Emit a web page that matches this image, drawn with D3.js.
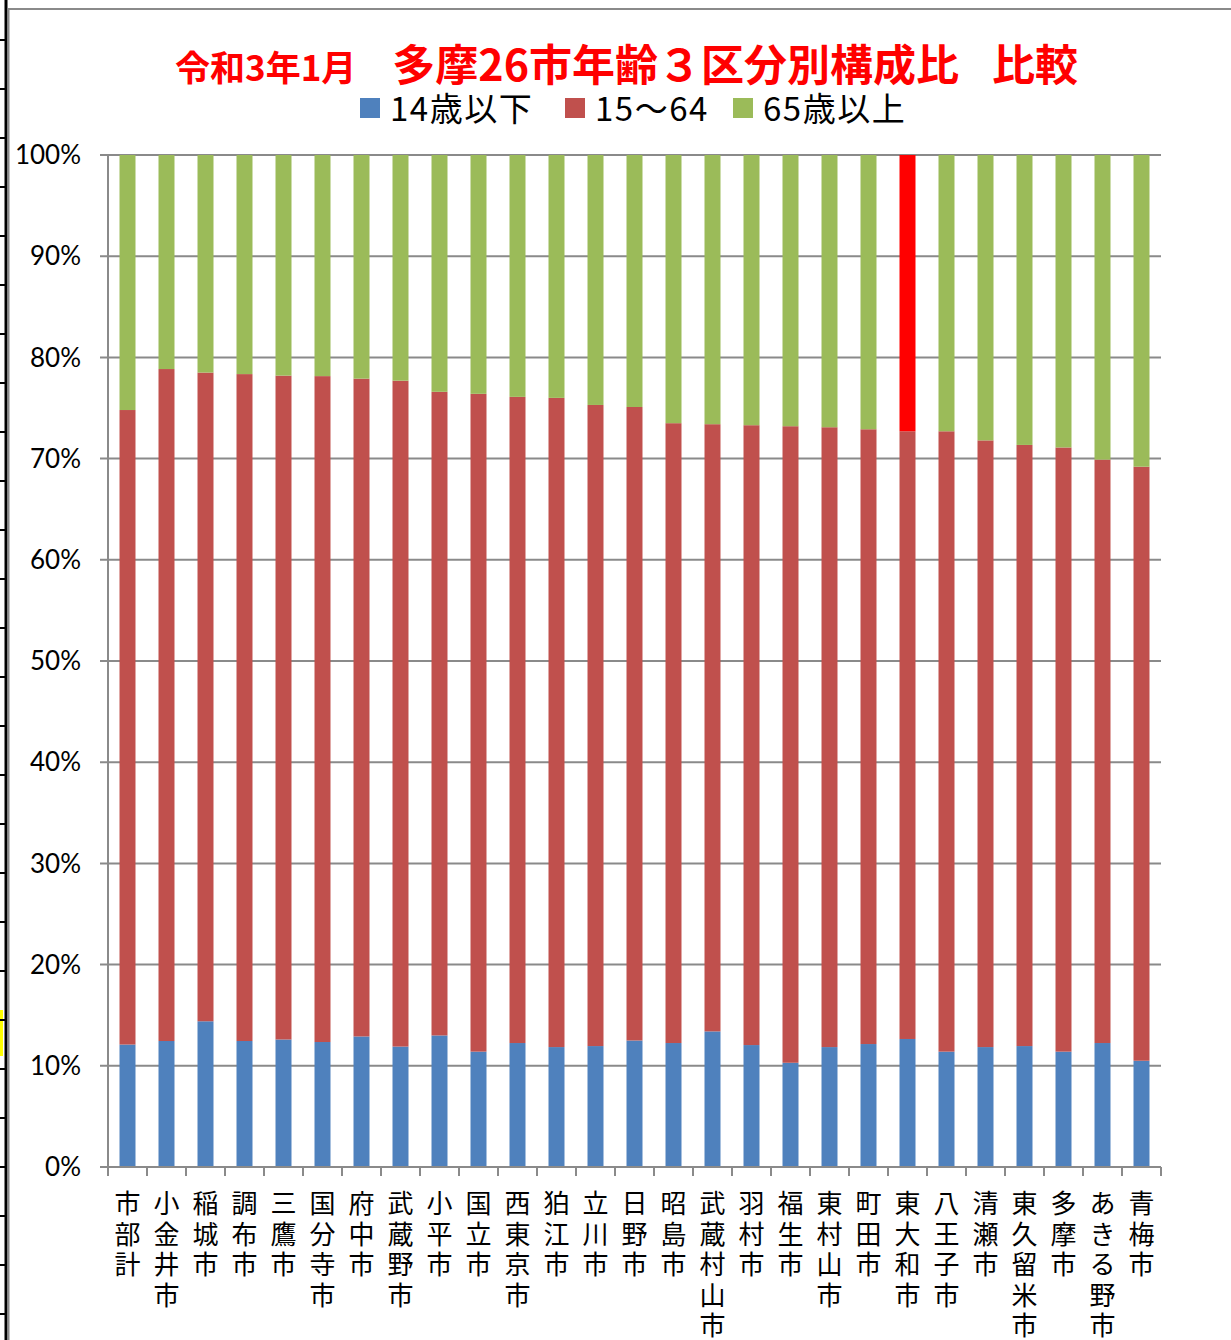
<!DOCTYPE html>
<html><head><meta charset="utf-8">
<script src="https://cdn.jsdelivr.net/npm/d3@7"></script>
<style>html,body{margin:0;padding:0;background:#fff;}svg{display:block;}</style>
</head><body>
<script>
const categories = ["市部計","小金井市","稲城市","調布市","三鷹市","国分寺市","府中市","武蔵野市","小平市","国立市","西東京市","狛江市","立川市","日野市","昭島市","武蔵村山市","羽村市","福生市","東村山市","町田市","東大和市","八王子市","清瀬市","東久留米市","多摩市","あきる野市","青梅市"];
const young   = [12.1,12.45,14.4,12.45,12.6,12.35,12.9,11.9,13.0,11.4,12.25,11.85,11.95,12.5,12.25,13.4,12.05,10.3,11.85,12.15,12.65,11.4,11.85,11.95,11.4,12.25,10.5];
const working = [62.7,66.4,64.1,65.9,65.6,65.8,65.0,65.8,63.6,65.0,63.85,64.15,63.35,62.6,61.25,60.0,61.25,62.9,61.25,60.75,60.05,61.3,59.95,59.4,59.7,57.65,58.7];
const elderly = [25.2,21.15,21.5,21.65,21.8,21.85,22.1,22.3,23.4,23.6,23.9,24.0,24.7,24.9,26.5,26.6,26.7,26.8,26.9,27.1,27.3,27.3,28.2,28.65,28.9,30.1,30.8];
const seriesNames = ["14歳以下","15〜64","65歳以上"];
const yTicks = [0,10,20,30,40,50,60,70,80,90,100];
const highlight = "東大和市";
const titleParts = ["令和3年1月","多摩26市年齢３区分別構成比","比較"];

(function(){
const W = 1231, H = 1340;
const colors = ["#4F81BD","#C0504D","#9BBB59"];
const svg = d3.select("body").append("svg").attr("width",W).attr("height",H);

// spreadsheet decoration
svg.append("rect").attr("x",0).attr("y",1010).attr("width",3).attr("height",46).attr("fill","#ffff00");
svg.append("line").attr("x1",6).attr("x2",6).attr("y1",0).attr("y2",H).attr("stroke","#000").attr("stroke-width",3);
d3.range(40,H,49).forEach(yy=>svg.append("line").attr("x1",0).attr("x2",6).attr("y1",yy).attr("y2",yy).attr("stroke","#000").attr("stroke-width",2));
svg.append("line").attr("x1",8.5).attr("x2",8.5).attr("y1",9).attr("y2",H).attr("stroke","#8a8a8a").attr("stroke-width",2);
svg.append("line").attr("x1",8).attr("x2",W).attr("y1",9).attr("y2",9).attr("stroke","#8a8a8a").attr("stroke-width",2);

const pl = 108, pr = 1161, pt = 155, pb = 1167;
const x = d3.scaleBand().domain(categories).range([pl,pr]).paddingInner(0.59).paddingOuter(0.295);
const y = d3.scaleLinear().domain([0,100]).range([pb,pt]);

// gridlines
svg.append("g").selectAll("line").data(yTicks).join("line")
  .attr("x1",pl-8).attr("x2",pr).attr("y1",d=>y(d)).attr("y2",d=>y(d))
  .attr("stroke","#8a8a8a").attr("stroke-width",2);

const data = categories.map((c,i)=>({c, v:[young[i],working[i],elderly[i]]}));
const stack = d3.stack().keys([0,1,2]).value((d,k)=>d.v[k]);
const stacked = stack(data);
stacked.forEach((s,k)=>{
  svg.append("g").selectAll("rect").data(s).join("rect")
    .attr("x",d=>x(d.data.c)).attr("width",x.bandwidth())
    .attr("y",d=>y(d[1])).attr("height",d=>y(d[0])-y(d[1]))
    .attr("fill",d=>(k===2 && d.data.c===highlight)?"#FF0000":colors[k]);
});

// y axis line
svg.append("line").attr("x1",pl).attr("x2",pl).attr("y1",pt).attr("y2",pb).attr("stroke","#8a8a8a").attr("stroke-width",2);
// x axis line and ticks
svg.append("line").attr("x1",pl-8).attr("x2",pr).attr("y1",pb).attr("y2",pb).attr("stroke","#8a8a8a").attr("stroke-width",2);
const step = x.step();
svg.append("g").selectAll("line").data(d3.range(categories.length+1)).join("line")
  .attr("x1",i=>pl+i*step).attr("x2",i=>pl+i*step)
  .attr("y1",pb).attr("y2",pb+9).attr("stroke","#8a8a8a").attr("stroke-width",2);

// y tick labels
svg.append("g").selectAll("text").data(yTicks).join("text")
  .attr("x",81).attr("y",d=>y(d)).attr("dy","0.35em").attr("text-anchor","end")
  .attr("font-family","Lato, 'Liberation Sans', sans-serif").attr("font-size",26).attr("fill","#000")
  .text(d=>d+"%");

// category labels (vertical), one text per character
svg.append("g").selectAll("g").data(categories).join("g").each(function(c){
  const g = d3.select(this);
  Array.from(c).forEach((ch,j)=>{
    g.append("text").attr("x",x(c)+x.bandwidth()/2).attr("y",1213+j*30.5)
      .attr("text-anchor","middle").attr("font-family","'Noto Sans CJK JP', sans-serif")
      .attr("font-size",26).attr("fill","#000").text(ch);
  });
});

// title
const tt = svg.append("text").attr("x",175).attr("y",81)
  .attr("font-family","'Noto Sans CJK JP', sans-serif").attr("font-weight","bold").attr("fill","#FF0000");
tt.append("tspan").attr("font-size",35).text(titleParts[0]);
tt.append("tspan").attr("font-size",43).attr("dx",36).text(titleParts[1]);
tt.append("tspan").attr("font-size",43).attr("dx",33).text(titleParts[2]);

// legend
const legX = [360, 565, 733];
const lg = svg.append("g").selectAll("g").data(seriesNames).join("g")
  .attr("transform",(d,i)=>`translate(${legX[i]},0)`);
lg.append("rect").attr("x",0).attr("y",98).attr("width",20).attr("height",20).attr("fill",(d,i)=>colors[i]);
lg.append("text").attr("x",30).attr("y",121).attr("font-family","'Noto Sans CJK JP', sans-serif")
  .attr("font-size",33).attr("letter-spacing",1.5).attr("fill","#000").text(d=>d);
})();
</script>
</body></html>
